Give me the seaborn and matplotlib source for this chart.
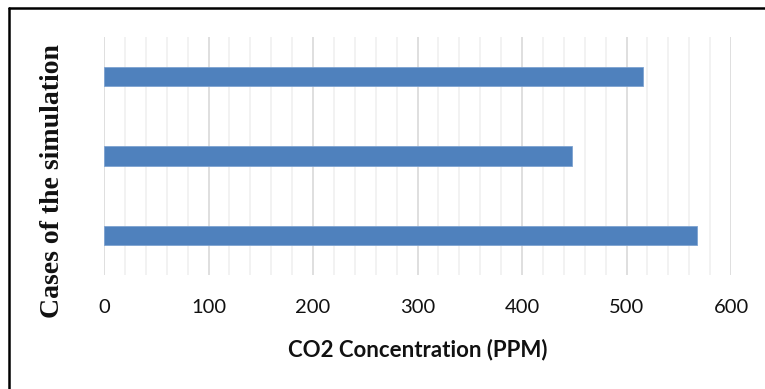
import matplotlib
matplotlib.use("Agg")
import matplotlib.pyplot as plt
from matplotlib.lines import Line2D
from matplotlib.ticker import MultipleLocator
import seaborn as sns
import pandas as pd

# Data (top to bottom as drawn)
cases = ["Case 3", "Case 2", "Case 1"]
co2_ppm = [516, 448, 567]
x_ticks = [0, 100, 200, 300, 400, 500, 600]

df = pd.DataFrame({"case": cases, "co2": co2_ppm})

sns.set_theme(style="white")
plt.rcParams['font.family'] = ['Lato', 'DejaVu Sans']

W, H = 765, 389
fig = plt.figure(figsize=(W / 100, H / 100), dpi=100)
ax = fig.add_axes([104 / W, 1 - 275 / H, (731 - 104) / W, (275 - 37) / H])

sns.barplot(data=df, x="co2", y="case", orient="h", color="#4F81BD",
            width=0.243, saturation=1, edgecolor="#7EA3D1", linewidth=0.6,
            ax=ax, zorder=3)

ax.set_xlim(0, 600)
ax.set_ylim(2.5, -0.5)
ax.set_xticks(x_ticks)
ax.set_xticklabels([str(t) for t in x_ticks], fontsize=14.5, color="#111111")
ax.xaxis.set_minor_locator(MultipleLocator(20))
ax.grid(axis="x", which="major", color="#D9D9D9", linewidth=1.2, zorder=0)
ax.grid(axis="x", which="minor", color="#F0F0F0", linewidth=1.2, zorder=0)
ax.set_axisbelow(True)
ax.set_yticks([])
ax.tick_params(axis="x", which="both", length=0, pad=17)
for s in ax.spines.values():
    s.set_visible(False)

ax.set_ylabel("")
ax.set_xlabel("")
fig.text(418 / W, 1 - 350 / H, "CO2 Concentration (PPM)", ha="center", va="center",
         fontsize=16, fontweight="bold", color="#111111")
fig.text(53 / W, 1 - 181 / H, "Cases of the simulation", ha="center", va="center",
         rotation=90, fontsize=20, fontweight="bold", family="Liberation Serif",
         color="#111111")

# chart frame (top and left edges visible)
fig.add_artist(Line2D([8.5 / W, 1.01], [1 - 7.5 / H, 1 - 7.5 / H], color="black",
                      linewidth=1.8, transform=fig.transFigure))
fig.add_artist(Line2D([8.5 / W, 8.5 / W], [1 - 7.5 / H, -0.01], color="black",
                      linewidth=1.8, transform=fig.transFigure))

fig.savefig("out.png", dpi=100, facecolor="white")
